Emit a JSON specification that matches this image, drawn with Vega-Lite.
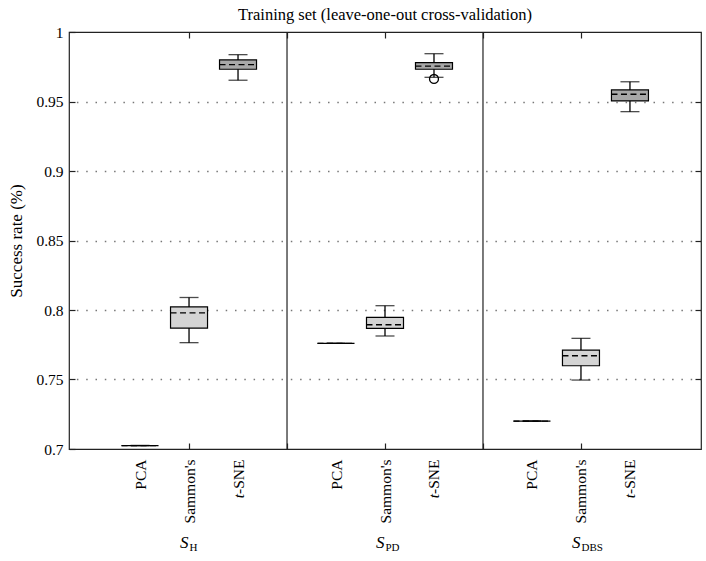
{
  "$schema": "https://vega.github.io/schema/vega-lite/v6.json",
  "width": 632,
  "height": 417,
  "autosize": "none",
  "padding": {"left": 69, "top": 32, "right": 5, "bottom": 112},
  "background": "white",
  "config": {
    "view": {"stroke": "#222222", "strokeWidth": 1.2},
    "font": "Liberation Serif",
    "axis": {"labelFont": "Liberation Serif", "titleFont": "Liberation Serif", "labelColor": "black", "titleColor": "black", "tickColor": "#222222", "tickWidth": 1.2, "labelOverlap": false, "grid": false, "domain": false}
  },
  "title": {"text": "Training set (leave-one-out cross-validation)", "font": "Liberation Serif", "fontSize": 16.5, "fontWeight": "normal", "color": "black", "frame": "group", "anchor": "middle", "baseline": "alphabetic", "offset": -11},
  "data": {"values": [
    {"group": "H", "method": "PCA", "key": "H|PCA", "lo": 0.7025, "q1": 0.7025, "med": 0.7025, "q3": 0.7025, "hi": 0.7025},
    {"group": "H", "method": "Sammon's", "key": "H|Sammon's", "lo": 0.7765, "q1": 0.787, "med": 0.798, "q3": 0.8022, "hi": 0.809},
    {"group": "H", "method": "t-SNE", "key": "H|t-SNE", "lo": 0.9653, "q1": 0.9732, "med": 0.9765, "q3": 0.9799, "hi": 0.9837},
    {"group": "PD", "method": "PCA", "key": "PD|PCA", "lo": 0.776, "q1": 0.776, "med": 0.776, "q3": 0.776, "hi": 0.776},
    {"group": "PD", "method": "Sammon's", "key": "PD|Sammon's", "lo": 0.7813, "q1": 0.7868, "med": 0.7894, "q3": 0.7947, "hi": 0.8031},
    {"group": "PD", "method": "t-SNE", "key": "PD|t-SNE", "lo": 0.9674, "q1": 0.9732, "med": 0.9755, "q3": 0.9779, "hi": 0.9844},
    {"group": "DBS", "method": "PCA", "key": "DBS|PCA", "lo": 0.7201, "q1": 0.7201, "med": 0.7201, "q3": 0.7201, "hi": 0.7201},
    {"group": "DBS", "method": "Sammon's", "key": "DBS|Sammon's", "lo": 0.7496, "q1": 0.7599, "med": 0.7671, "q3": 0.7712, "hi": 0.7796},
    {"group": "DBS", "method": "t-SNE", "key": "DBS|t-SNE", "lo": 0.9427, "q1": 0.9504, "med": 0.9552, "q3": 0.9583, "hi": 0.9642}
  ]},
  "layer": [
    {
      "data": {"values": [{"key": "|a"}, {"key": "|b"}]},
      "mark": {"type": "rule", "color": "#222222", "strokeWidth": 1.2},
      "encoding": {
        "x": {"field": "key", "type": "nominal", "scale": {"type": "point", "domain": ["|l", "H|PCA", "H|Sammon's", "H|t-SNE", "|a", "PD|PCA", "PD|Sammon's", "PD|t-SNE", "|b", "DBS|PCA", "DBS|Sammon's", "DBS|t-SNE", "|r"], "padding": 0.45}, "axis": null}
      }
    },
    {
      "mark": {"type": "rule", "color": "black", "strokeWidth": 1.3},
      "encoding": {
        "x": {"field": "key", "type": "nominal", "scale": {"type": "point", "domain": ["|l", "H|PCA", "H|Sammon's", "H|t-SNE", "|a", "PD|PCA", "PD|Sammon's", "PD|t-SNE", "|b", "DBS|PCA", "DBS|Sammon's", "DBS|t-SNE", "|r"], "padding": 0.45},
          "axis": {"orient": "bottom", "values": ["H|PCA", "H|Sammon's", "H|t-SNE", "PD|PCA", "PD|Sammon's", "PD|t-SNE", "DBS|PCA", "DBS|Sammon's", "DBS|t-SNE"], "labelExpr": "split(datum.value,'|')[1] == 't-SNE' ? '-SNE' : split(datum.value,'|')[1]", "labelAngle": -90, "labelAlign": "right", "labelBaseline": "middle", "labelPadding": 10, "labelFontSize": 15.5, "ticks": false, "title": null}},
        "y": {"field": "lo", "type": "quantitative", "scale": {"domain": [0.7, 1], "nice": false, "zero": false},
          "axis": {"orient": "left", "values": [0.7, 0.75, 0.8, 0.85, 0.9, 0.95, 1], "format": "~g", "labelFontSize": 15.5, "tickSize": -6, "labelPadding": 12, "title": "Success rate (%)", "titleFontSize": 17, "titleFontWeight": "normal", "titlePadding": 10}},
        "y2": {"field": "hi"}
      }
    },
    {
      "mark": {"type": "tick", "color": "black", "size": 19, "thickness": 1.3, "orient": "horizontal"},
      "encoding": {
        "x": {"field": "key", "type": "nominal", "scale": {"type": "point", "domain": ["|l", "H|PCA", "H|Sammon's", "H|t-SNE", "|a", "PD|PCA", "PD|Sammon's", "PD|t-SNE", "|b", "DBS|PCA", "DBS|Sammon's", "DBS|t-SNE", "|r"], "padding": 0.45},
          "axis": {"orient": "bottom", "values": ["H|Sammon's", "|a", "PD|Sammon's", "|b", "DBS|Sammon's"], "labels": false, "tickSize": -6, "title": null}},
        "y": {"field": "lo", "type": "quantitative", "scale": {"domain": [0.7, 1], "nice": false, "zero": false},
          "axis": {"orient": "right", "values": [0.75, 0.8, 0.85, 0.9, 0.95], "labels": false, "tickSize": -6, "grid": true, "gridDash": [1.5, 7.8], "gridColor": "#777777", "gridWidth": 1.3, "title": null}}
      }
    },
    {
      "mark": {"type": "tick", "color": "black", "size": 19, "thickness": 1.3, "orient": "horizontal"},
      "encoding": {
        "x": {"field": "key", "type": "nominal", "scale": {"type": "point", "domain": ["|l", "H|PCA", "H|Sammon's", "H|t-SNE", "|a", "PD|PCA", "PD|Sammon's", "PD|t-SNE", "|b", "DBS|PCA", "DBS|Sammon's", "DBS|t-SNE", "|r"], "padding": 0.45},
          "axis": {"orient": "top", "values": ["H|Sammon's", "|a", "PD|Sammon's", "|b", "DBS|Sammon's"], "labels": false, "tickSize": -6, "title": null}},
        "y": {"field": "hi", "type": "quantitative", "scale": {"domain": [0.7, 1], "nice": false, "zero": false}, "axis": null}
      }
    },
    {
      "mark": {"type": "bar", "width": 37, "stroke": "black", "strokeWidth": 1.2},
      "encoding": {
        "x": {"field": "key", "type": "nominal", "scale": {"type": "point", "domain": ["|l", "H|PCA", "H|Sammon's", "H|t-SNE", "|a", "PD|PCA", "PD|Sammon's", "PD|t-SNE", "|b", "DBS|PCA", "DBS|Sammon's", "DBS|t-SNE", "|r"], "padding": 0.45},
          "axis": {"orient": "bottom", "values": ["H|Sammon's", "PD|Sammon's", "DBS|Sammon's"], "labelExpr": "'S'", "ticks": false, "labelAngle": 0, "labelFontStyle": "italic", "labelFontSize": 17, "labelAlign": "right", "labelBaseline": "alphabetic", "labelPadding": 98, "labelOffset": -1, "title": null}},
        "y": {"field": "q1", "type": "quantitative", "scale": {"domain": [0.7, 1], "nice": false, "zero": false}, "axis": null},
        "y2": {"field": "q3"},
        "fill": {"field": "method", "type": "nominal", "scale": {"domain": ["PCA", "Sammon's", "t-SNE"], "range": ["#d4d4d4", "#d4d4d4", "#a8a8a8"]}, "legend": null}
      }
    },
    {
      "mark": {"type": "rule", "color": "black", "strokeWidth": 1.3, "strokeDash": [6, 3.5], "xOffset": -18.5, "x2Offset": 18.5},
      "encoding": {
        "x": {"field": "key", "type": "nominal", "scale": {"type": "point", "domain": ["|l", "H|PCA", "H|Sammon's", "H|t-SNE", "|a", "PD|PCA", "PD|Sammon's", "PD|t-SNE", "|b", "DBS|PCA", "DBS|Sammon's", "DBS|t-SNE", "|r"], "padding": 0.45},
          "axis": {"orient": "bottom", "values": ["H|Sammon's", "PD|Sammon's", "DBS|Sammon's"], "labelExpr": "split(datum.value,'|')[0]", "ticks": false, "labelAngle": 0, "labelFontSize": 11, "labelAlign": "left", "labelBaseline": "alphabetic", "labelPadding": 101, "labelOffset": 0, "title": null}},
        "x2": {"field": "key"},
        "y": {"field": "med", "type": "quantitative", "scale": {"domain": [0.7, 1], "nice": false, "zero": false}, "axis": null}
      }
    },
    {
      "data": {"values": [{"group": "PD", "method": "t-SNE", "key": "PD|t-SNE", "outlier": 0.9662}]},
      "mark": {"type": "point", "shape": "circle", "filled": false, "stroke": "black", "strokeWidth": 1.3, "size": 80, "opacity": 1},
      "encoding": {
        "x": {"field": "key", "type": "nominal", "scale": {"type": "point", "domain": ["|l", "H|PCA", "H|Sammon's", "H|t-SNE", "|a", "PD|PCA", "PD|Sammon's", "PD|t-SNE", "|b", "DBS|PCA", "DBS|Sammon's", "DBS|t-SNE", "|r"], "padding": 0.45},
          "axis": {"orient": "bottom", "values": ["H|t-SNE", "PD|t-SNE", "DBS|t-SNE"], "labelExpr": "'t'", "ticks": false, "labelAngle": -90, "labelAlign": "right", "labelBaseline": "middle", "labelFontStyle": "italic", "labelFontSize": 15.5, "labelPadding": 44.5, "title": null}},
        "y": {"field": "outlier", "type": "quantitative", "scale": {"domain": [0.7, 1], "nice": false, "zero": false}, "axis": null}
      }
    }
  ],
  "resolve": {"axis": {"x": "independent", "y": "independent"}}
}
